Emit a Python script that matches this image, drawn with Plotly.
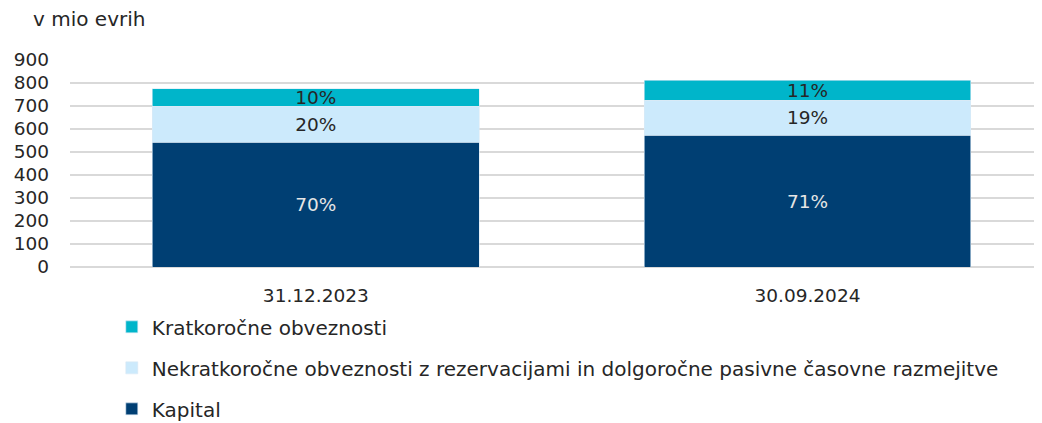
import plotly.graph_objects as go

categories = ["31.12.2023", "30.09.2024"]
kapital = [543, 573]
nekratkorocne = [155, 152]
kratkorocne = [77, 86]
kapital_lbl = ["70%", "71%"]
nekratkorocne_lbl = ["20%", "19%"]
kratkorocne_lbl = ["10%", "11%"]
yticks = [0, 100, 200, 300, 400, 500, 600, 700, 800, 900]

FONT = "DejaVu Sans"
FS = 18.5
LFS = 20
TXT = "#262626"

fig = go.Figure()
common = dict(width=0.665, textposition="inside", insidetextanchor="middle",
              textangle=0, marker_line=dict(width=0.6, color="#dbe9f5"))
fig.add_trace(go.Bar(x=categories, y=kapital, name="Kapital", text=kapital_lbl,
                     marker_color="#003f73", textfont=dict(color="#e6e6e6", size=FS, family=FONT),
                     legendgroup="a", legendrank=3, **common))
fig.add_trace(go.Bar(x=categories, y=nekratkorocne,
                     name="Nekratkoročne obveznosti z rezervacijami in dolgoročne pasivne časovne razmejitve",
                     text=nekratkorocne_lbl, marker_color="#cceafc",
                     textfont=dict(color=TXT, size=FS, family=FONT), legendgroup="b", legendrank=2,
                     **common))
fig.add_trace(go.Bar(x=categories, y=kratkorocne, name="Kratkoročne obveznosti", text=kratkorocne_lbl,
                     marker_color="#00b5ca", textfont=dict(color=TXT, size=FS, family=FONT),
                     legendgroup="c", legendrank=1, **common))

# page body has an 8px margin, so the figure is drawn 8px right/down
fig.update_layout(
    width=1034, height=415, barmode="stack",
    margin=dict(l=62, r=0, t=52, b=156.3, autoexpand=False),
    paper_bgcolor="white", plot_bgcolor="white",
    font=dict(family=FONT, size=FS, color=TXT),
    uniformtext=dict(minsize=FS, mode="show"),
    xaxis=dict(range=[-0.5, 1.477], showgrid=False, showline=False, ticks="",
               ticklabelstandoff=15, tickfont=dict(size=FS, color=TXT)),
    yaxis=dict(range=[0, 900], tickvals=yticks, showgrid=True, gridcolor="#d9d9d9",
               gridwidth=1.5, zeroline=True, zerolinecolor="#d9d9d9", zerolinewidth=1.5,
               ticklabelstandoff=20, tickfont=dict(size=FS, color=TXT)),
    legend=dict(orientation="v", x=0.043, xanchor="left", y=-0.195, yanchor="top",
                traceorder="grouped", tracegroupgap=12, font=dict(size=LFS, color=TXT),
                itemwidth=30),
    annotations=[dict(text="v mio evrih", xref="paper", yref="paper", x=-0.039, y=1.2,
                      xanchor="left", yanchor="middle", showarrow=False, borderpad=0,
                      font=dict(size=LFS, color=TXT))],
    showlegend=True,
)

fig.write_html("out.html")
